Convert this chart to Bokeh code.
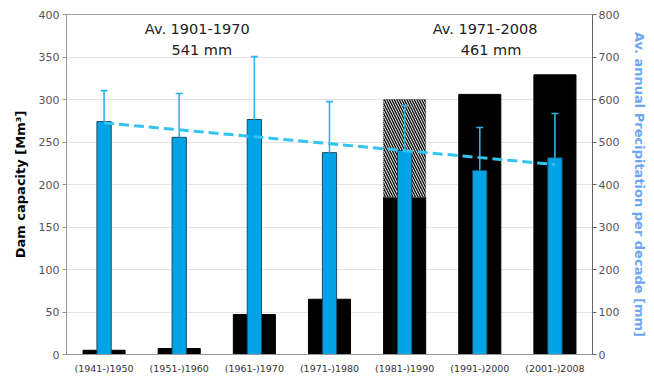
from bokeh.plotting import figure
from bokeh.models import Range1d, LinearAxis, SingleIntervalTicker, Label, FactorRange
from bokeh.embed import file_html
from bokeh.resources import INLINE

decades = ["(1941-)1950", "(1951-)1960", "(1961-)1970", "(1971-)1980",
           "(1981-)1990", "(1991-)2000", "(2001-)2008"]
dam_capacity = [5, 7, 47, 65, 185, 306, 329]
planned_decade = ["(1981-)1990"]
planned_bottom = [185]
planned_top = [300]
precip = [548, 511, 553, 475, 480, 433, 463]
precip_upper = [621, 614, 701, 595, 586, 534, 567]
trend_x = [decades[0], decades[-1]]
trend_y = [545, 447]
period_labels = [("Av. 1901-1970", "541 mm"), ("Av. 1971-2008", "461 mm")]

FONT = "DejaVu Sans"

p = figure(x_range=FactorRange(*decades, range_padding=0), y_range=Range1d(0, 400),
           width=654, height=377, output_backend="svg", toolbar_location=None,
           min_border_left=66, min_border_right=62, min_border_top=14, min_border_bottom=23)
p.extra_y_ranges = {"precip": Range1d(0, 800)}
p.outline_line_color = "#a0a0a0"
p.background_fill_color = "white"
p.border_fill_color = "white"

# dam capacity bars
p.vbar(x=decades, top=dam_capacity, width=0.56, fill_color="black", line_color="black")
p.vbar(x=planned_decade, bottom=planned_bottom, top=planned_top, width=0.56,
       fill_color="white", hatch_pattern="\\", hatch_color="#1a1a1a", hatch_scale=5,
       hatch_weight=1.5, line_color="#404040", line_dash="1 1", line_width=1)

# precipitation bars
p.vbar(x=decades, top=precip, width=0.19, fill_color="#00A3E6", line_color="#1d4a66",
       line_width=1, y_range_name="precip")
p.segment(x0=decades, x1=decades, y0=precip, y1=precip_upper, line_color="#2FB4E9",
          line_width=1.6, y_range_name="precip")
p.scatter(x=decades, y=precip_upper, marker="dash", size=7, line_color="#2FB4E9",
          line_width=1.6, y_range_name="precip")

# trend line
p.line(x=trend_x, y=trend_y, line_color="#33C4F0", line_width=3, line_dash="10 5",
       y_range_name="precip")

# annotations
for (t1, t2), (xc, xc2) in zip(period_labels, [(1.74, 1.80), (5.57, 5.65)]):
    p.add_layout(Label(x=xc, y=383, text=t1, text_align="center", text_baseline="middle",
                       text_font=FONT, text_font_size="14.5px", text_color="#222222"))
    p.add_layout(Label(x=xc2, y=358, text=t2, text_align="center", text_baseline="middle",
                       text_font=FONT, text_font_size="14.5px", text_color="#222222"))

# axes
p.xgrid.grid_line_color = None
p.ygrid.grid_line_color = "#e4e4e4"
p.yaxis.ticker = SingleIntervalTicker(interval=50)
yax = p.yaxis[0]
yax.axis_label = "Dam capacity [Mm³]"
yax.axis_label_text_font = FONT
yax.axis_label_text_font_size = "13px"
yax.axis_label_text_font_style = "bold"
yax.axis_label_text_color = "black"
yax.axis_label_standoff = 8
yax.major_label_standoff = 3
yax.major_label_text_font = FONT
yax.major_label_text_font_size = "11px"
yax.major_label_text_color = "#555555"
yax.axis_line_color = "#999999"
yax.major_tick_line_color = "#999999"
yax.major_tick_out = 4
yax.major_tick_in = 0
yax.minor_tick_line_color = None

rax = LinearAxis(y_range_name="precip", ticker=SingleIntervalTicker(interval=100))
rax.axis_label = "Av. annual Precipitation per decade [mm]"
rax.axis_label_text_font = FONT
rax.axis_label_text_font_size = "13px"
rax.axis_label_text_font_style = "bold"
rax.axis_label_text_color = "#6FA6F2"
rax.axis_label_standoff = 10
rax.major_label_standoff = 2
rax.major_label_text_font = FONT
rax.major_label_text_font_size = "11px"
rax.major_label_text_color = "#555555"
rax.axis_line_color = "#666666"
rax.major_tick_line_color = "#666666"
rax.major_tick_out = 4
rax.major_tick_in = 0
rax.minor_tick_line_color = None
p.add_layout(rax, "right")

xax = p.xaxis[0]
xax.major_label_text_font = FONT
xax.major_label_text_font_size = "9.5px"
xax.major_label_text_color = "#333333"
xax.axis_line_color = "#999999"
xax.major_tick_line_color = None
xax.major_tick_out = 0
xax.major_label_standoff = 8

open("out.html", "w").write(file_html(p, INLINE))
